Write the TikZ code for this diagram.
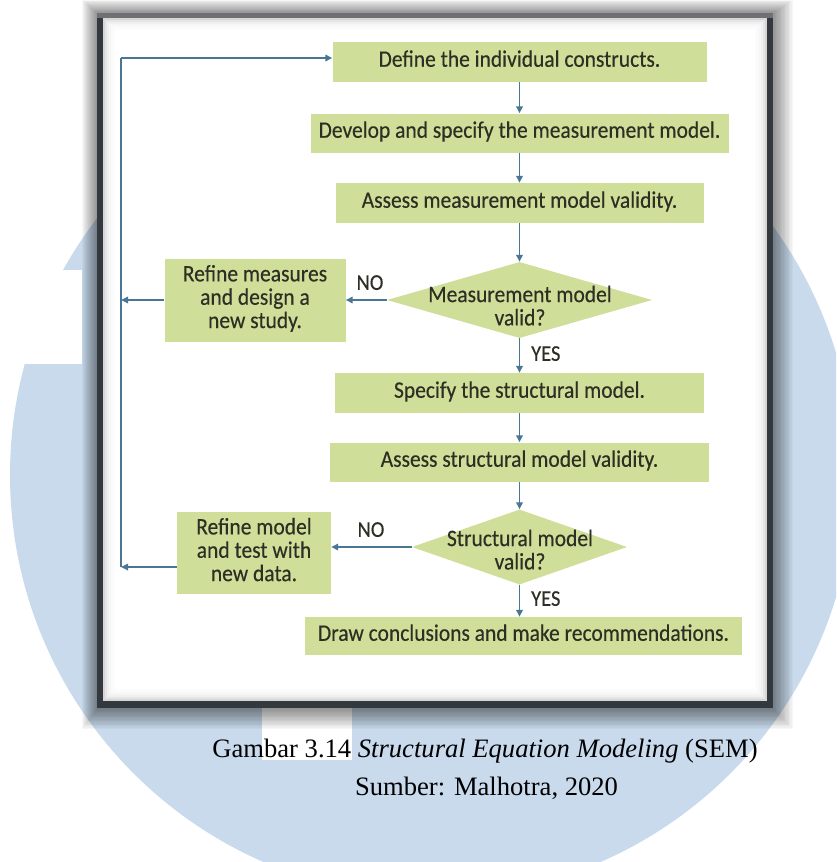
\documentclass[tikz,border=0pt]{standalone}
\usepackage{fontspec}
\usepackage{graphicx}
\setmainfont{Liberation Serif}
\newfontfamily\boxfont[FakeBold=0.35]{Carlito}
\usetikzlibrary{shapes.geometric,arrows.meta}
\definecolor{wm}{RGB}{201,218,236}
\definecolor{boxgreen}{RGB}{207,223,153}
\definecolor{arrowblue}{RGB}{72,118,148}
\definecolor{txt}{RGB}{45,47,36}
\definecolor{framedark}{RGB}{52,57,64}
\definecolor{frametop}{RGB}{110,112,116}
\newcommand\tallt[1]{\raisebox{-4.5pt}{\scalebox{1}[1.1]{\begin{tabular}{@{}c@{}}#1\end{tabular}}}}
\begin{document}
\begin{tikzpicture}[x=1pt,y=-1pt,
  stepbox/.style={fill=boxgreen, inner sep=0pt, text=txt, font=\boxfont\fontsize{21.5}{21}\selectfont, align=center},
  decbox/.style={diamond, fill=boxgreen, inner sep=0pt},
  dectext/.style={text=txt, font=\boxfont\fontsize{21.5}{21}\selectfont, align=center, inner sep=0pt},
  lbl/.style={text=txt, font=\boxfont\fontsize{20.5}{22}\selectfont, inner sep=0pt},
  conn/.style={draw=arrowblue, line width=1.6pt, -{Triangle[length=7pt,width=6.5pt]}},
  plainline/.style={draw=arrowblue, line width=1.6pt},
  captext/.style={text=black, font=\fontsize{26.6}{32}\selectfont, inner sep=0pt, anchor=base}
]
\useasboundingbox (0,0) rectangle (836,862);
\fill[white] (0,0) rectangle (836,862);
% watermark
\begin{scope}
\clip (0,0) rectangle (836,862);
\fill[wm] (432,475) circle [radius=422pt];
\fill[white] (0,270) rectangle (82,364);
\fill[white] (262,600) rectangle (352,760);
\end{scope}
% frame shadow
\foreach \i in {1,...,16}{
  \fill[black, opacity=0.03] ({98-\i},{14-0.9*\i}) rectangle ({772+1.3*\i},{708+1.3*\i});
}
\fill[framedark] (97,13) rectangle (773,708);
\fill[frametop] (97,13) rectangle (773,18);
\fill[white] (103,18) rectangle (767,701);
\foreach \i/\o in {1/0.16,3/0.10,5/0.06,7/0.035,9/0.02,11/0.01}{
  \draw[black, opacity=\o, line width=2pt] ({103+\i},{18+\i}) rectangle ({767-\i},{701-\i});
}
% nodes
\node[stepbox, minimum width=374pt, minimum height=40pt] (b1) at (519.5,62) {\tallt{Define the individual constructs.}};
\node[stepbox, minimum width=418pt, minimum height=39pt] (b2) at (519.5,133) {\tallt{Develop and specify the measurement model.}};
\node[stepbox, minimum width=368pt, minimum height=40pt] (b3) at (519.5,203) {\tallt{Assess measurement model validity.}};
\node[decbox, minimum width=265pt, minimum height=76pt] (d1) at (519.5,300) {};
\node[dectext] (d1t) at (520,309) {\tallt{Measurement model\\valid?}};
\node[stepbox, minimum width=181pt, minimum height=83pt] (r1) at (255,300) {\tallt{Refine measures\\and design a\\new study.}};
\node[stepbox, minimum width=369pt, minimum height=40pt] (b4) at (519.5,393) {\tallt{Specify the structural model.}};
\node[stepbox, minimum width=379pt, minimum height=39pt] (b5) at (519.5,462) {\tallt{Assess structural model validity.}};
\node[decbox, minimum width=215pt, minimum height=75pt] (d2) at (519.5,547) {};
\node[dectext] (d2t) at (520,553) {\tallt{Structural model\\valid?}};
\node[stepbox, minimum width=154pt, minimum height=82pt] (r2) at (254,553) {\tallt{Refine model\\and test with\\new data.}};
\node[stepbox, minimum width=437pt, minimum height=38pt] (b6) at (523.5,636) {\tallt{Draw conclusions and make recommendations.}};
% labels
\node[lbl] (no1) at (370,285) {\tallt{NO}};
\node[lbl] (no2) at (371,532) {\tallt{NO}};
\node[lbl, anchor=west] (yes1) at (531,356) {\tallt{YES}};
\node[lbl, anchor=west] (yes2) at (531,601) {\tallt{YES}};
% connectors
\draw[conn] (b1.south) -- (b2.north);
\draw[conn] (b2.south) -- (b3.north);
\draw[conn] (b3.south) -- (d1.north);
\draw[conn] (d1.south) -- (b4.north);
\draw[conn] (b4.south) -- (b5.north);
\draw[conn] (b5.south) -- (d2.north);
\draw[conn] (d2.south) -- (d2.south |- b6.north);
\draw[conn] (d1.west) -- (d1.west -| r1.east);
\draw[conn] (d2.west) -- (d2.west -| r2.east);
\coordinate (lt) at (121,58);
\coordinate (lb) at (121,567);
\draw[conn] (r1.west) -- (r1.west -| lt);
\draw[conn] (r2.west |- lb) -- (lb);
\draw[plainline] (lb) -- (lt);
\draw[conn] (lt) -- (lt -| b1.west);
% caption
\node[captext] (cap1) at (485,757) {Gambar 3.14 \textit{Structural Equation Modeling} (SEM)};
\node[captext] (cap2) at (486.5,795) {Sumber: Malhotra, 2020};
\end{tikzpicture}
\end{document}
